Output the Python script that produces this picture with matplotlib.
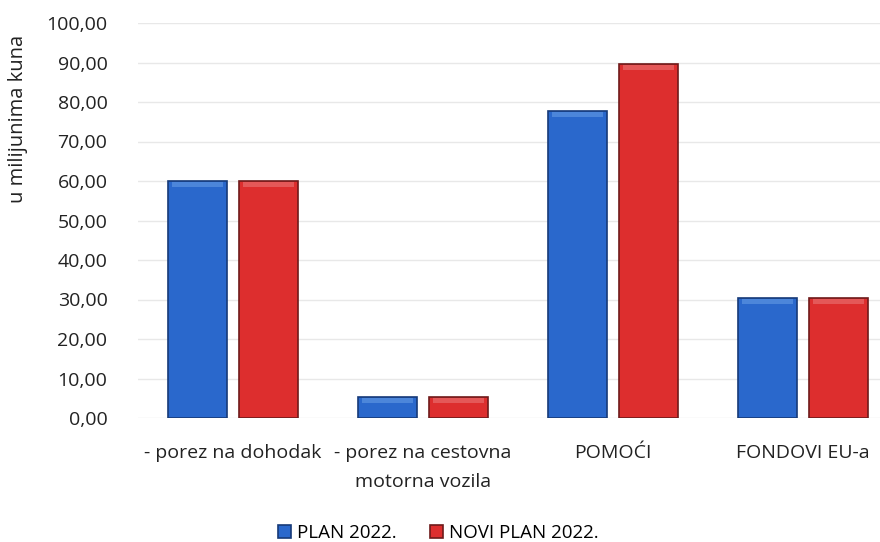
import matplotlib
matplotlib.use('Agg')
import matplotlib.pyplot as plt
import numpy as np
from matplotlib.ticker import FuncFormatter

# data
categories = ['- porez na dohodak', '- porez na cestovna\nmotorna vozila', 'POMOĆI', 'FONDOVI EU-a']
plan_2022 = [60.0, 5.3, 77.6, 30.4]
novi_plan_2022 = [60.0, 5.3, 89.6, 30.4]
series_names = ['PLAN 2022.', 'NOVI PLAN 2022.']

plt.rcParams['font.family'] = ['Open Sans', 'DejaVu Sans']

fig = plt.figure(figsize=(8.8, 5.42), dpi=100)
ax = fig.add_axes([138/880, 1-418/542, 760/880, (418-23)/542])

x = np.arange(len(categories))
w = 0.31
off = 0.187

def bevel_bars(xs, vals, face, edge, light, label):
	bars = ax.bar(xs, vals, w, color=face, edgecolor=edge, linewidth=1.2, label=label, zorder=3)
	# lighter strip at the top of each bar for the bevel look
	cap = [min(1.2, v*0.25) for v in vals]
	ax.bar(xs, cap, w*0.88, bottom=[v-c-0.25 for v, c in zip(vals, cap)], color=light,
		linewidth=0, alpha=0.7, zorder=4)
	return bars

bevel_bars(x-off, plan_2022, '#2a68cc', '#163a78', '#5b93e0', series_names[0])
bevel_bars(x+off, novi_plan_2022, '#dd2e2e', '#6e1a1a', '#e86a6a', series_names[1])

ax.set_xlim(-0.5, 3.5)
ax.set_ylim(0, 100)
ax.set_yticks(np.arange(0, 101, 10))
ax.yaxis.set_major_formatter(FuncFormatter(lambda v, p: f'{v:.2f}'.replace('.', ',')))
ax.grid(axis='y', color='#e8e8e8', linewidth=1, zorder=0)
for s in ax.spines.values():
	s.set_visible(False)
ax.tick_params(axis='y', length=0, pad=22, labelsize=14, labelcolor='#222222')
ax.set_xticks(x)
ax.set_xticklabels(categories, fontsize=14, color='#222222', linespacing=1.75)
ax.tick_params(axis='x', length=0, pad=19)

fig.text(18/880, 1-119/542, 'u milijunima kuna', rotation=90, ha='center', va='center',
	fontsize=14.5, color='#222222')

handles, labels = ax.get_legend_handles_labels()
fig.legend(handles, labels, loc='center', bbox_to_anchor=(438/880, 1-533/542), ncol=2,
	frameon=False, fontsize=13.5, handlelength=0.7, handleheight=0.7, columnspacing=1.8,
	handletextpad=0.3)

fig.savefig('out.png', dpi=100)
